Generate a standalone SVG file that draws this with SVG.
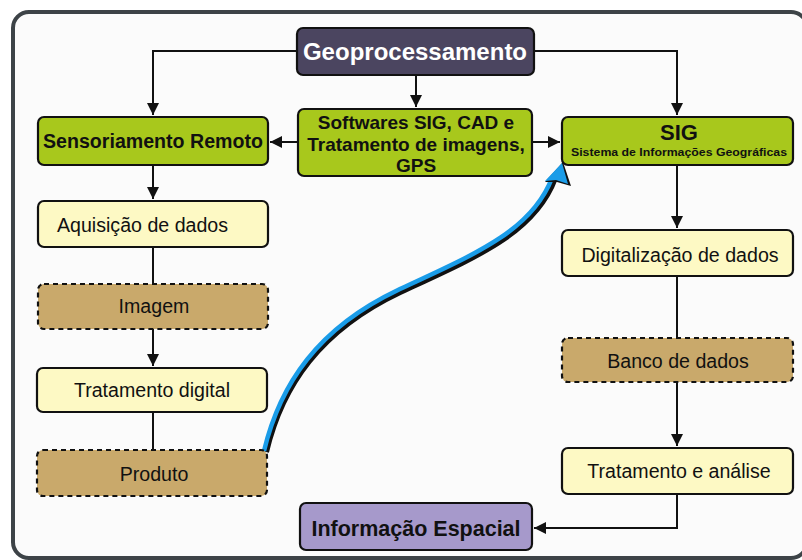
<svg xmlns="http://www.w3.org/2000/svg" width="802" height="560" viewBox="0 0 802 560">
<defs>
<style>
.box{stroke:#111;stroke-width:2.2}
.green{fill:#a8c81c}
.yellow{fill:#fdf9c4}
.brown{fill:#c9a96b;stroke-dasharray:5,4}
.t{font-family:"Liberation Sans",Arial,sans-serif;fill:#111}
.r{font-size:19.6px}
.b{font-weight:bold}
.c{text-anchor:middle}
.ln{fill:none;stroke:#111;stroke-width:2}
</style>
<marker id="ah" viewBox="0 0 10 10" refX="10" refY="5" markerWidth="6" markerHeight="6" markerUnits="strokeWidth" orient="auto">
<path d="M0,0 L10,5 L0,10 Z" fill="#111"/>
</marker>
</defs>
<rect width="802" height="560" fill="#ffffff"/>
<rect x="13" y="12" width="794" height="546" rx="16" fill="#fbfbfb" stroke="#3d4347" stroke-width="4"/>

<g id="connectors">
<path class="ln" d="M297,51 H153 V115" marker-end="url(#ah)"/>
<path class="ln" d="M416,75 V107" marker-end="url(#ah)"/>
<path class="ln" d="M534,51 H677 V115" marker-end="url(#ah)"/>
<path class="ln" d="M298,142 H270" marker-end="url(#ah)"/>
<path class="ln" d="M532,142 H560" marker-end="url(#ah)"/>
<path class="ln" d="M153,165 V199" marker-end="url(#ah)"/>
<path class="ln" d="M153,247 V284"/>
<path class="ln" d="M153,329 V366" marker-end="url(#ah)"/>
<path class="ln" d="M153,412 V450"/>
<path class="ln" d="M677,165 V228" marker-end="url(#ah)"/>
<path class="ln" d="M677,276 V338"/>
<path class="ln" d="M677,382 V446" marker-end="url(#ah)"/>
<path class="ln" d="M677,494 V528 H534" marker-end="url(#ah)"/>
<g id="blue-arrow">
<path d="M266,452 C282,385 320,330 400,292 C480,255 535,232 555,178" fill="none" stroke="#111" stroke-width="6"/>
<path d="M264,451 C280,384 318,328 398,290 C478,253 532,230 552,178" fill="none" stroke="#1a9ce8" stroke-width="4.5"/>
<path d="M563,162 L571,186 L557,182 L545,182 Z" fill="#111"/>
<path d="M562,163 L568,184 L556,180 L545,181 Z" fill="#1a9ce8"/>
</g>
</g>

<g id="geoprocessamento">
<rect x="297" y="28" width="237" height="47" rx="6" fill="#4b4560" class="box"/>
<text x="415" y="60" class="t b c" font-size="24" style="fill:#ffffff">Geoprocessamento</text>
</g>
<g id="sensoriamento">
<rect x="38" y="117" width="230" height="48" rx="6" class="box green"/>
<text x="153" y="148" class="t b c" font-size="19.6">Sensoriamento Remoto</text>
</g>
<g id="softwares">
<rect x="298" y="109" width="234" height="67" rx="6" class="box green"/>
<text x="416" y="129" class="t b c" font-size="19">Softwares SIG, CAD e</text>
<text x="416" y="151" class="t b c" font-size="19">Tratamento de imagens,</text>
<text x="416" y="172" class="t b c" font-size="19">GPS</text>
</g>
<g id="sig">
<rect x="562" y="117" width="231" height="48" rx="6" class="box green"/>
<text x="679" y="140" class="t b c" font-size="22">SIG</text>
<text x="679" y="156" class="t b c" font-size="11" textLength="216" lengthAdjust="spacingAndGlyphs">Sistema de Informações Geográficas</text>
</g>
<g id="aquisicao">
<rect x="38" y="201" width="230" height="46" rx="6" class="box yellow"/>
<text x="57" y="232" class="t r">Aquisição de dados</text>
</g>
<g id="imagem">
<rect x="38" y="284" width="230" height="45" rx="6" class="box brown"/>
<text x="154" y="313" class="t r c">Imagem</text>
</g>
<g id="tratamento-digital">
<rect x="37" y="368" width="230" height="44" rx="6" class="box yellow"/>
<text x="152" y="397" class="t r c">Tratamento digital</text>
</g>
<g id="produto">
<rect x="37" y="450" width="230" height="46" rx="6" class="box brown"/>
<text x="154" y="481" class="t r c">Produto</text>
</g>
<g id="digitalizacao">
<rect x="562" y="230" width="231" height="46" rx="6" class="box yellow"/>
<text x="680" y="262" class="t r c">Digitalização de dados</text>
</g>
<g id="banco">
<rect x="562" y="338" width="231" height="44" rx="6" class="box brown"/>
<text x="678" y="368" class="t r c">Banco de dados</text>
</g>
<g id="tratamento-analise">
<rect x="562" y="448" width="231" height="46" rx="6" class="box yellow"/>
<text x="679" y="478" class="t r c">Tratamento e análise</text>
</g>
<g id="informacao">
<rect x="300" y="503" width="232" height="47" rx="6" fill="#a699cb" class="box"/>
<text x="416" y="536" class="t b c" font-size="21.5">Informação Espacial</text>
</g>
</svg>
